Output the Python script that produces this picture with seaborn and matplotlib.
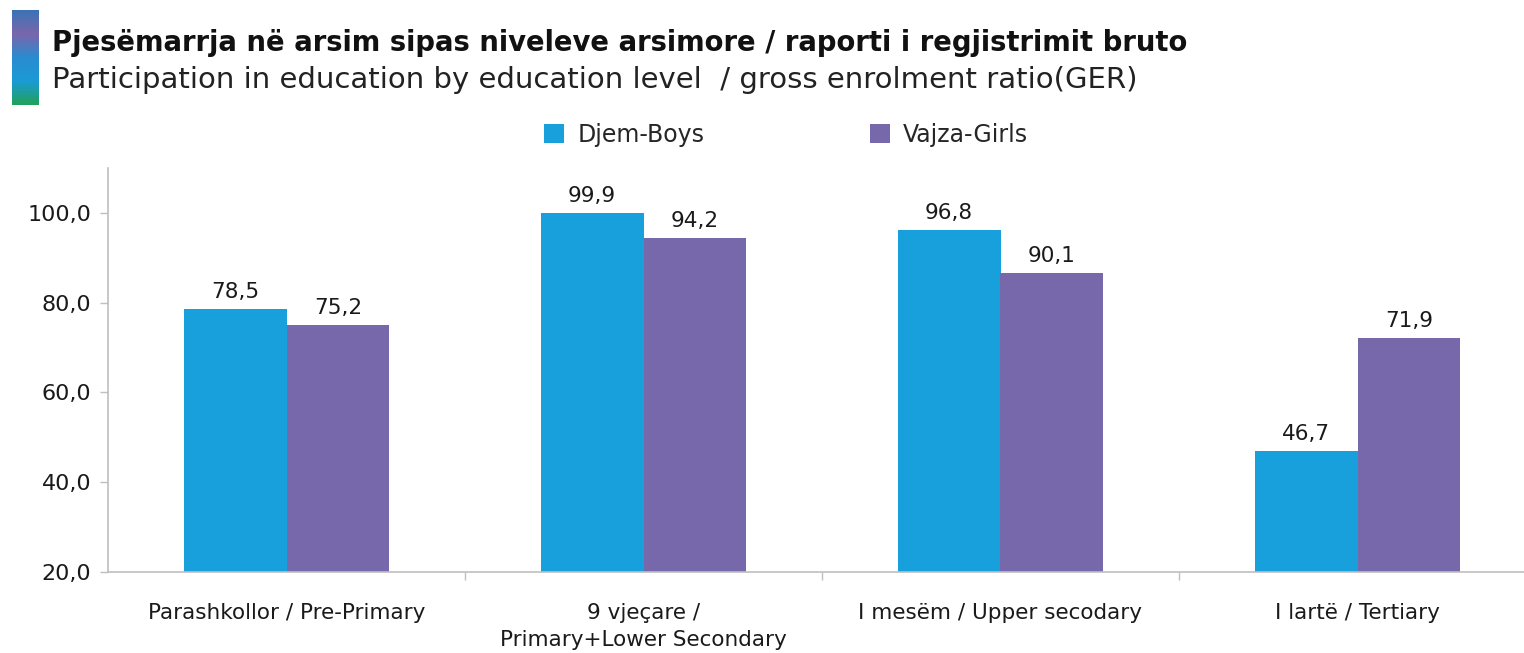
import numpy as np
import pandas as pd
import matplotlib
matplotlib.use("Agg")
import matplotlib.pyplot as plt
from matplotlib.patches import Patch
from matplotlib.colors import LinearSegmentedColormap
import seaborn as sns

categories = ["Parashkollor / Pre-Primary", "9 vjeçare /\nPrimary+Lower Secondary",
              "I mesëm / Upper secodary", "I lartë / Tertiary"]
series_names = ["Djem-Boys", "Vajza-Girls"]
boys = [78.5, 99.9, 96.2, 46.9]
girls = [75.1, 94.4, 86.6, 72.1]
boys_labels = ["78,5", "99,9", "96,8", "46,7"]
girls_labels = ["75,2", "94,2", "90,1", "71,9"]
yticks = [20, 40, 60, 80, 100]
ytick_labels = ["20,0", "40,0", "60,0", "80,0", "100,0"]
title1 = "Pjesëmarrja në arsim sipas niveleve arsimore / raporti i regjistrimit bruto"
title2 = "Participation in education by education level  / gross enrolment ratio(GER)"

colors = ["#17A0DB", "#7768AC"]

sns.set_theme(style="white")
plt.rcParams['font.family'] = ['DejaVu Sans']

df = pd.DataFrame({
    "cat": categories * 2,
    "val": boys + girls,
    "ser": [series_names[0]] * 4 + [series_names[1]] * 4,
})

W, H = 1524, 653
fig = plt.figure(figsize=(W / 100, H / 100), dpi=100)
ax = fig.add_axes([108 / W, (H - 572) / H, (W - 108) / W, (572 - 168) / H])

sns.barplot(data=df, x="cat", y="val", hue="ser", palette=colors, width=0.575,
            linewidth=0, saturation=1, ax=ax, legend=False)

ax.set_ylim(20, 110)
ax.set_xlim(-0.5, 3.5 - 12 / 357)
ax.set_yticks(yticks)
ax.set_yticklabels(ytick_labels, fontsize=16, color="#1a1a1a")
ax.set_xticks(range(4))
ax.set_xticklabels(categories, fontsize=15.5, color="#1a1a1a", linespacing=1.45)
ax.tick_params(axis="x", length=0, pad=22)
ax.tick_params(axis="y", length=6, width=1, color="#BFBFBF", pad=6, left=True)
ax.set_xticks([0.5, 1.5, 2.5], minor=True)
ax.tick_params(axis="x", which="minor", length=6, width=1, color="#BFBFBF", bottom=True)
ax.set_xlabel("")
ax.set_ylabel("")
for s in ["top", "right"]:
    ax.spines[s].set_visible(False)
for s in ["left", "bottom"]:
    ax.spines[s].set_color("#BFBFBF")
    ax.spines[s].set_linewidth(1.2)
ax.grid(False)

for cont, labs in zip(ax.containers, [boys_labels, girls_labels]):
    ax.bar_label(cont, labels=labs, padding=5, fontsize=15.5, color="#1a1a1a")

handles = [Patch(facecolor=c, edgecolor="none") for c in colors]
fig.legend(handles, series_names, loc="center", bbox_to_anchor=(786 / W, 1 - 135 / H),
           ncol=2, frameon=False, fontsize=17, handlelength=0.85, handleheight=0.85,
           handletextpad=0.55, columnspacing=7.0)

fig.text(52 / W, 1 - 43 / H, title1, fontsize=19.85, fontweight="bold", va="center", ha="left", color="#111111")
fig.text(52 / W, 1 - 80 / H, title2, fontsize=21, va="center", ha="left", color="#222222")

gax = fig.add_axes([12 / W, 1 - 105 / H, 27 / W, 95 / H])
cmap = LinearSegmentedColormap.from_list("g", ["#3B73B7", "#7A66AB", "#2A8CD0", "#1A9BD6", "#22A159"])
gax.imshow(np.linspace(0, 1, 400).reshape(-1, 1), aspect="auto", cmap=cmap, interpolation="bilinear")
gax.axis("off")

fig.savefig("out.png", dpi=100)
